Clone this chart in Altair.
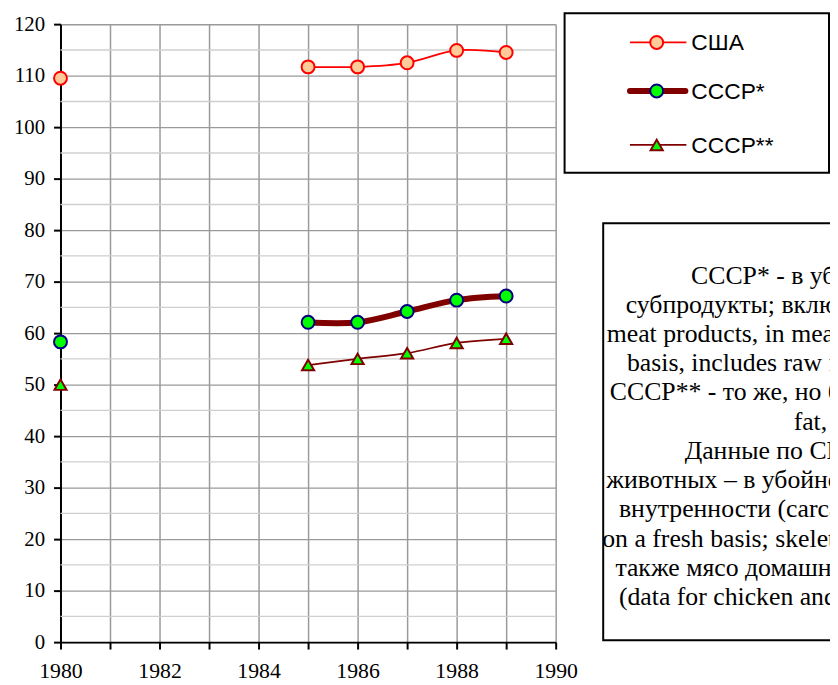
import altair as alt
import pandas as pd

# ---- data ----
years = [1980, 1985, 1986, 1987, 1988, 1989]
usa = [109.5, 111.7, 111.7, 112.5, 114.9, 114.5]
ussr_a = [58.3, 62.1, 62.1, 64.2, 66.4, 67.2]
ussr_b = [50.0, 53.8, 55.0, 56.1, 58.1, 58.9]

series_names = ["США", "СССР*", "СССР**"]

x_ticks = list(range(1980, 1991))
y_ticks = list(range(0, 121, 10))
y_minor = list(range(5, 120, 10))

note_lines = [
    "СССР* - в убойном весе, и",
    "субпродукты; включая жиры (meat and",
    "meat products, in meat equivalent, on a fresh",
    "basis, includes raw fat and edible offals);",
    "СССР** - то же, но без субпродуктов, без",
    "fat, lard)",
    "Данные по США: мясо всех",
    "животных – в убойном весе, исключая все",
    "внутренности (carcass weight equivalent,",
    "on a fresh basis; skeletal meat, etc.); включая",
    "также мясо домашней птицы и кроликов",
    "(data for chicken and turkey are included).",
]


def frame(vals):
    seg, s = [], 0
    for i, yr in enumerate(years):
        if i > 0 and yr - years[i - 1] > 1:
            s += 1
        seg.append(s)
    return pd.DataFrame({"year": years, "value": vals, "seg": seg})


SERIF = "Liberation Serif"
SANS = "Liberation Sans"

x_scale = alt.Scale(domain=[1980, 1990], nice=False, zero=False)
y_scale = alt.Scale(domain=[0, 120], nice=False, zero=True)

x_axis = alt.Axis(
    values=x_ticks, labelExpr="datum.value % 2 == 0 ? datum.label : ''", format="d",
    title=None, grid=True, gridColor="#9a9a9a", gridWidth=1.5,
    domainColor="black", domainWidth=2, tickColor="black", tickWidth=2, tickSize=7,
    labelFont=SERIF, labelFontSize=22, labelColor="black", labelPadding=12,
    labelFlush=False, labelOverlap=False,
)
y_axis = alt.Axis(
    values=y_ticks, format="d", title=None, grid=True, gridColor="#9a9a9a", gridWidth=1.5,
    domainColor="black", domainWidth=2, tickColor="black", tickWidth=2, tickSize=7,
    labelFont=SERIF, labelFontSize=21, labelColor="black", labelPadding=9,
    labelOverlap=False,
)

X = alt.X("year:Q", scale=x_scale, axis=x_axis)
Y = alt.Y("value:Q", scale=y_scale, axis=y_axis)

minor = alt.Chart(pd.DataFrame({"value": y_minor})).mark_rule(
    color="#cfcfcf", strokeWidth=1.5
).encode(y=Y)

d_usa, d_a, d_b = frame(usa), frame(ussr_a), frame(ussr_b)

line_usa = alt.Chart(d_usa).mark_line(color="#ff0000", strokeWidth=1.8, interpolate="catmull-rom").encode(x=X, y=Y, detail="seg:N")
pts_usa = alt.Chart(d_usa).mark_point(shape="circle", filled=True, fill="#ffcc99", stroke="#ff0000",
                                      strokeWidth=2, size=170, opacity=1).encode(x=X, y=Y)
line_a = alt.Chart(d_a).mark_line(color="#800000", strokeWidth=6, interpolate="catmull-rom").encode(x=X, y=Y, detail="seg:N")
pts_a = alt.Chart(d_a).mark_point(shape="circle", filled=True, fill="#00ff00", stroke="#000080",
                                  strokeWidth=2, size=170, opacity=1).encode(x=X, y=Y)
line_b = alt.Chart(d_b).mark_line(color="#800000", strokeWidth=1.8, interpolate="catmull-rom").encode(x=X, y=Y, detail="seg:N")
pts_b = alt.Chart(d_b).mark_point(shape="triangle-up", filled=True, fill="#00ff00", stroke="#800000",
                                  strokeWidth=2, size=150, opacity=1).encode(x=X, y=Y)

one = pd.DataFrame({"k": [0]})

# legend box
leg_box = alt.Chart(one).mark_rect(fill="white", stroke="black", strokeWidth=2).encode(
    x=alt.value(509), x2=alt.value(776), y=alt.value(-11), y2=alt.value(150))
leg_rows = [18.5, 67.5, 122]
leg = [leg_box]
leg.append(alt.Chart(one).mark_rule(color="#ff0000", strokeWidth=1.8).encode(
    x=alt.value(575), x2=alt.value(632), y=alt.value(leg_rows[0])))
leg.append(alt.Chart(one).mark_point(shape="circle", filled=True, fill="#ffcc99", stroke="#ff0000",
                                     strokeWidth=2, size=170, opacity=1).encode(x=alt.value(602), y=alt.value(leg_rows[0])))
leg.append(alt.Chart(one).mark_rule(color="#800000", strokeWidth=6, strokeCap="round").encode(
    x=alt.value(575), x2=alt.value(631), y=alt.value(leg_rows[1])))
leg.append(alt.Chart(one).mark_point(shape="circle", filled=True, fill="#00ff00", stroke="#000080",
                                     strokeWidth=2, size=170, opacity=1).encode(x=alt.value(602), y=alt.value(leg_rows[1])))
leg.append(alt.Chart(one).mark_rule(color="#800000", strokeWidth=1.8).encode(
    x=alt.value(575), x2=alt.value(632), y=alt.value(leg_rows[2])))
leg.append(alt.Chart(one).mark_point(shape="triangle-up", filled=True, fill="#00ff00", stroke="#800000",
                                     strokeWidth=2, size=150, opacity=1).encode(x=alt.value(602), y=alt.value(leg_rows[2])))
for name, yy in zip(series_names, leg_rows):
    leg.append(alt.Chart(one).mark_text(text=name, font=SANS, fontSize=23, align="left", baseline="middle",
                                        color="black").encode(x=alt.value(637), y=alt.value(yy + 1)))

# note box
note_box = alt.Chart(one).mark_rect(fill="white", stroke="black", strokeWidth=2).encode(
    x=alt.value(548), x2=alt.value(1100), y=alt.value(201), y2=alt.value(622))
note_text = alt.Chart(one).mark_text(text=note_lines, font=SERIF, fontSize=26, lineHeight=29.5,
                                     align="center", baseline="alphabetic", color="black").encode(
    x=alt.value(785), y=alt.value(262))

chart = alt.layer(
    minor, line_usa, pts_usa, line_a, pts_a, line_b, pts_b, *leg, note_box, note_text
).properties(
    width=500, height=624,
    padding={"left": 53, "top": 13, "right": 277, "bottom": 40},
    autosize=alt.AutoSizeParams(type="none"),
    background="white",
).configure_view(stroke=None)

chart.save("out.html", embed_options={"renderer": "svg", "actions": False})
